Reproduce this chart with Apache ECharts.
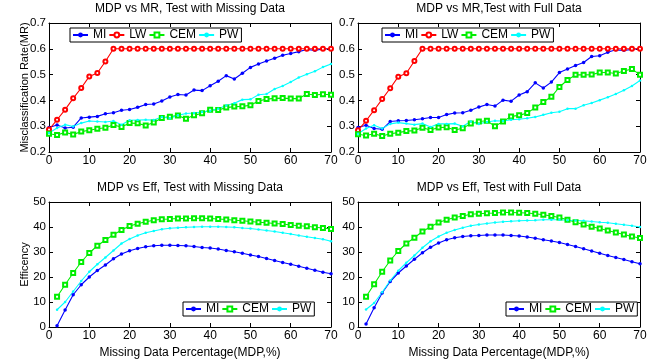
<!DOCTYPE html>
<html>
<head>
<meta charset="utf-8">
<script src="https://cdn.jsdelivr.net/npm/echarts@6/dist/echarts.min.js"></script>
<style>html,body{margin:0;padding:0;background:#fff;}#c{width:667px;height:360px;}</style>
</head>
<body>
<div id="c"></div>
<script>
// ---- data ----
const xMR = [0,2,4,6,8,10,12,14,16,18,20,22,24,26,28,30,32,34,36,38,40,42,44,46,48,50,52,54,56,58,60,62,64,66,68,70];
const xEff = [2,4,6,8,10,12,14,16,18,20,22,24,26,28,30,32,34,36,38,40,42,44,46,48,50,52,54,56,58,60,62,64,66,68,70];

// MR, test with missing data
const mrMissMI  = [0.295,0.305,0.293,0.296,0.332,0.335,0.338,0.348,0.352,0.362,0.365,0.373,0.384,0.386,0.398,0.413,0.423,0.421,0.440,0.438,0.457,0.474,0.496,0.483,0.505,0.528,0.541,0.553,0.563,0.575,0.582,0.589,0.597,0.594,0.599,0.600];
const mrMissLW  = [0.287,0.325,0.364,0.408,0.448,0.493,0.506,0.551,0.6,0.6,0.6,0.6,0.6,0.6,0.6,0.6,0.6,0.6,0.6,0.6,0.6,0.6,0.6,0.6,0.6,0.6,0.6,0.6,0.6,0.6,0.6,0.6,0.6,0.6,0.6,0.6];
const mrMissCEM = [0.271,0.266,0.276,0.268,0.279,0.284,0.290,0.294,0.305,0.297,0.312,0.311,0.303,0.314,0.332,0.337,0.341,0.329,0.342,0.350,0.364,0.363,0.372,0.376,0.377,0.381,0.398,0.405,0.408,0.409,0.407,0.407,0.425,0.421,0.424,0.422];
const mrMissPW  = [0.274,0.293,0.306,0.299,0.312,0.320,0.318,0.316,0.320,0.306,0.323,0.324,0.325,0.324,0.336,0.331,0.342,0.349,0.351,0.355,0.360,0.368,0.380,0.389,0.403,0.404,0.422,0.425,0.444,0.456,0.471,0.489,0.501,0.513,0.529,0.541];

// MR, test with full data
const mrFullMI  = [0.295,0.304,0.291,0.288,0.318,0.321,0.322,0.325,0.329,0.334,0.334,0.345,0.351,0.352,0.362,0.374,0.384,0.378,0.401,0.397,0.421,0.434,0.468,0.448,0.471,0.508,0.522,0.535,0.547,0.570,0.573,0.587,0.596,0.594,0.597,0.601];
const mrFullLW  = [0.284,0.321,0.362,0.405,0.447,0.492,0.505,0.553,0.6,0.6,0.6,0.6,0.6,0.6,0.6,0.6,0.6,0.6,0.6,0.6,0.6,0.6,0.6,0.6,0.6,0.6,0.6,0.6,0.6,0.6,0.6,0.6,0.6,0.6,0.6,0.6];
const mrFullCEM = [0.269,0.264,0.271,0.262,0.271,0.275,0.281,0.283,0.294,0.285,0.295,0.296,0.285,0.292,0.310,0.318,0.321,0.300,0.318,0.338,0.342,0.351,0.372,0.394,0.414,0.452,0.479,0.499,0.499,0.500,0.508,0.508,0.504,0.514,0.522,0.499];
const mrFullPW  = [0.271,0.291,0.304,0.291,0.309,0.314,0.310,0.306,0.310,0.297,0.309,0.309,0.310,0.300,0.318,0.309,0.316,0.321,0.320,0.325,0.327,0.331,0.336,0.344,0.352,0.356,0.368,0.368,0.381,0.390,0.401,0.412,0.425,0.439,0.456,0.477];

// Efficiency, test with missing data
const effMissMI  = [0.5,6.8,12.9,16.9,20.0,22.6,24.8,27.3,29.2,30.5,31.4,32.1,32.5,32.7,32.7,32.6,32.5,32.2,31.8,31.6,31.2,30.6,30.1,29.5,28.8,28.2,27.4,26.6,25.8,25.1,24.3,23.5,22.7,21.9,21.3];
const effMissCEM = [12.1,16.9,21.6,26.0,29.6,32.5,34.8,36.9,38.8,40.4,41.3,42.1,42.7,43.1,43.2,43.4,43.4,43.5,43.5,43.4,43.2,43.0,42.7,42.5,42.2,41.9,41.7,41.4,41.2,40.8,40.5,40.3,39.9,39.6,39.2];
const effMissPW  = [6.9,10.0,14.2,18.4,22.1,25.1,27.8,30.6,33.4,35.2,36.6,37.7,38.4,39.1,39.5,39.7,39.9,40.0,40.1,40.1,40.1,40.0,39.9,39.6,39.4,39.0,38.6,38.2,37.7,37.2,36.6,36.1,35.6,35.1,34.3];

// Efficiency, test with full data
const effFullMI  = [1.2,7.7,13.6,18.2,21.6,24.4,27.1,29.7,31.9,33.6,34.9,35.7,36.2,36.5,36.6,36.8,36.8,36.8,36.6,36.4,36.0,35.5,34.9,34.4,33.8,33.0,32.2,31.3,30.4,29.5,28.6,27.8,27.0,26.1,25.3];
const effFullCEM = [12.1,17.1,22.1,26.6,30.4,33.4,35.7,38.2,40.1,41.8,42.9,43.8,44.4,45.1,45.3,45.5,45.6,45.8,45.8,45.7,45.6,45.3,44.9,44.4,43.8,42.9,41.9,41.0,40.1,39.4,38.6,37.8,37.0,36.2,35.6];
const effFullPW  = [7.0,9.6,13.9,18.6,22.5,25.7,28.6,31.7,34.3,36.2,37.7,38.8,39.7,40.5,41.0,41.4,41.8,42.1,42.3,42.5,42.6,42.7,42.9,42.9,42.9,42.7,42.6,42.5,42.2,41.9,41.7,41.3,40.9,40.5,40.0];

const titles = ['MDP vs MR, Test with Missing Data','MDP vs MR,Test with Full Data','MDP vs Eff, Test with Missing Data','MDP vs Eff, Test with Full Data'];
const yNameMR = 'Misclassification Rate(MR)';
const yNameEff = 'Efficency';
const xName = 'Missing Data Percentage(MDP,%)';

// ---- build ----
const FONT = '"Liberation Sans", Arial, sans-serif';
const pair = (xs, ys) => xs.map((x, i) => [x, ys[i]]);
const styles = {
  MI:  {color:'#0000ff', symbol:'circle', symbolSize:3.5},
  LW:  {color:'#ff0000', symbol:'emptyCircle', symbolSize:4},
  CEM: {color:'#00ee00', symbol:'emptyRect', symbolSize:4},
  PW:  {color:'#00ffff', symbol:'circle', symbolSize:2.5}
};
function mkSeries(name, idx, data) {
  const s = styles[name];
  return {
    type:'line', name, xAxisIndex: idx*2, yAxisIndex: idx*2, data,
    symbol: s.symbol, symbolSize: s.symbolSize, showSymbol:true,
    itemStyle:{color:s.color, borderWidth:1},
    lineStyle:{color:s.color, width:1.1},
    emphasis:{disabled:true}, z: 3
  };
}
const grids = [
  {left:49, top:23, width:282, height:129},
  {left:358, top:23, width:282, height:129},
  {left:49, top:202, width:282, height:129},
  {left:358, top:202, width:282, height:129}
];
const xAxes = [], yAxes = [];
grids.forEach((g, i) => {
  const isMR = i < 2;
  const bottom = i >= 2;
  xAxes.push({
    type:'value', gridIndex:i, min:0, max:70, interval:10, position:'bottom',
    name: bottom ? xName : '', nameLocation:'middle', nameGap:20,
    nameTextStyle:{fontFamily:FONT, fontSize:12, color:'#000'},
    axisLine:{show:true, onZero:false, lineStyle:{color:'#000', width:1}},
    axisTick:{show:true, inside:true, length:4, lineStyle:{color:'#000'}},
    axisLabel:{fontFamily:FONT, fontSize:12, color:'#000', margin:3},
    splitLine:{show:false}
  });
  xAxes.push({
    type:'value', gridIndex:i, min:0, max:70, interval:10, position:'top',
    axisLine:{show:true, onZero:false, lineStyle:{color:'#000', width:1}},
    axisTick:{show:true, inside:true, length:4, lineStyle:{color:'#000'}},
    axisLabel:{show:false}, splitLine:{show:false}
  });
  const yn = i === 0 ? yNameMR : (i === 2 ? yNameEff : '');
  yAxes.push({
    type:'value', gridIndex:i, position:'left',
    min: isMR ? 0.2 : 0, max: isMR ? 0.7 : 50, interval: isMR ? 0.1 : 10,
    name: yn, nameLocation:'middle', nameGap: 19, nameRotate:90, nameMoveOverlap:false,
    nameTextStyle:{fontFamily:FONT, fontSize:11, color:'#000'},
    axisLine:{show:true, onZero:false, lineStyle:{color:'#000', width:1}},
    axisTick:{show:true, inside:true, length:4, lineStyle:{color:'#000'}},
    axisLabel:{fontFamily:FONT, fontSize:11.5, color:'#000', margin:3,
      formatter: v => isMR ? Number(v).toFixed(1) : String(Math.round(v))},
    splitLine:{show:false}
  });
  yAxes.push({
    type:'value', gridIndex:i, position:'right',
    min: isMR ? 0.2 : 0, max: isMR ? 0.7 : 50, interval: isMR ? 0.1 : 10,
    axisLine:{show:true, onZero:false, lineStyle:{color:'#000', width:1}},
    axisTick:{show:true, inside:true, length:4, lineStyle:{color:'#000'}},
    axisLabel:{show:false}, splitLine:{show:false}
  });
});

const series = [
  mkSeries('MI', 0, pair(xMR, mrMissMI)),
  mkSeries('LW', 0, pair(xMR, mrMissLW)),
  mkSeries('CEM', 0, pair(xMR, mrMissCEM)),
  mkSeries('PW', 0, pair(xMR, mrMissPW)),
  mkSeries('MI', 1, pair(xMR, mrFullMI)),
  mkSeries('LW', 1, pair(xMR, mrFullLW)),
  mkSeries('CEM', 1, pair(xMR, mrFullCEM)),
  mkSeries('PW', 1, pair(xMR, mrFullPW)),
  mkSeries('MI', 2, pair(xEff, effMissMI)),
  mkSeries('CEM', 2, pair(xEff, effMissCEM)),
  mkSeries('PW', 2, pair(xEff, effMissPW)),
  mkSeries('MI', 3, pair(xEff, effFullMI)),
  mkSeries('CEM', 3, pair(xEff, effFullCEM)),
  mkSeries('PW', 3, pair(xEff, effFullPW))
];

const titleCenters = [190, 499, 190, 499];
const titleTops = [3, 3, 182, 182];
const title = titles.map((t, i) => ({
  text: t, left: titleCenters[i], top: titleTops[i], textAlign:'center', padding:0,
  textStyle:{fontFamily:FONT, fontSize:12, fontWeight:'normal', color:'#000'}
}));

const legBase = {
  orient:'horizontal', backgroundColor:'#fff', borderColor:'#000', borderWidth:1,
  padding:[1,3,1,2], itemGap:2, itemWidth:15, itemHeight:6, selectedMode:false,
  width: 400,
  textStyle:{fontFamily:FONT, fontSize:12, color:'#000'}
};
const legend = [
  Object.assign({}, legBase, {left:70, top:28, data:['MI','LW','CEM','PW']}),
  Object.assign({}, legBase, {left:382, top:28, data:['MI','LW','CEM','PW']}),
  Object.assign({}, legBase, {left:183, top:302, data:['MI','CEM','PW']}),
  Object.assign({}, legBase, {left:506, top:302, data:['MI','CEM','PW']})
];

const chart = echarts.init(document.getElementById('c'), null, {renderer:'canvas'});
chart.setOption({
  animation:false, backgroundColor:'#fff',
  title, legend, grid: grids, xAxis: xAxes, yAxis: yAxes, series
});
</script>
</body>
</html>
